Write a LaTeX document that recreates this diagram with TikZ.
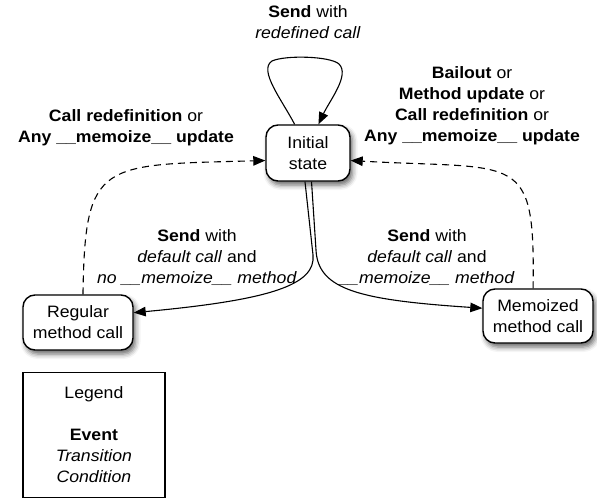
\documentclass[tikz,border=0pt]{standalone}
\usepackage{fontspec}
\setmainfont{Liberation Sans}[FakeStretch=1.07]
\usetikzlibrary{arrows.meta, positioning, shadows.blur}
\tikzset{
  state/.style = {rectangle, draw=black, line width=1.4pt, rounded corners=12pt, fill=white, align=center, inner sep=4pt, minimum width=110pt, minimum height=55pt, blur shadow={shadow xshift=2.5pt, shadow yshift=-4pt, shadow blur radius=5pt, shadow opacity=60}},
  legendbox/.style = {rectangle, draw=black, line width=1.2pt, fill=white, align=center, minimum width=142pt, minimum height=125pt},
  lbl/.style = {align=center, inner sep=0pt},
  arr/.style = {-{Triangle[length=12pt, width=9.5pt]}, line width=1.1pt},
  back/.style = {arr, dash pattern=on 7pt off 5pt}
}

\begin{document}
\begin{tikzpicture}[x=1pt, y=-1pt, font=\fontsize{16.5}{21}\selectfont]
\useasboundingbox (0,0) rectangle (597,498);

% States
\node[state, minimum width=84pt, minimum height=56pt] (init) at (308,153) {Initial\\state};
\node[state] (reg) at (78,322.5) {Regular\\method call};
\node[state, minimum height=54pt] (memo) at (538,316) {Memoized\\method call};

% Legend
\node[legendbox, below=21pt of reg.south west, anchor=north west] (legend) {Legend\\[21pt]\textbf{Event}\\\textit{Transition}\\\textit{Condition}};

% Labels
\node[lbl] (loopLbl) at (308,22) {\textbf{Send} with\\\textit{redefined call}};
\node[lbl] (leftTop) at (126,128) {\textbf{Call redefinition} or\\\textbf{Any \_\_memoize\_\_ update}};
\node[lbl] (rightTop) at (472,106) {\textbf{Bailout} or\\\textbf{Method update} or\\\textbf{Call redefinition} or\\\textbf{Any \_\_memoize\_\_ update}};
\node[lbl] (leftMid) at (197,258) {\textbf{Send} with\\\textit{default call} and\\\textit{no \_\_memoize\_\_ method}};
\node[lbl] (rightMid) at (427,258) {\textbf{Send} with\\\textit{default call} and\\\textit{\_\_memoize\_\_ method}};

% ----- ARROWS -----
% Self loop
\draw[arr] (init.115) .. controls (282,100) and (258,70) .. (272,61)
  .. controls (285,55) and (330,56) .. (339,64)
  .. controls (350,75) and (330,100) .. (init.70);
% Back to initial state
\draw[back] (reg.80) .. controls (85,160) and (100,165) .. (init.190);
\draw[back] (memo.100) .. controls (535,150) and (520,170) .. (init.350);
% Send with default call
\draw[arr] (init.264) -- (313,255) .. controls (316,285) and (270,300) .. (reg.10);
\draw[arr] (init.277) -- (316,250) .. controls (318,290) and (360,300) .. (memo.172);

\end{tikzpicture}
\end{document}
